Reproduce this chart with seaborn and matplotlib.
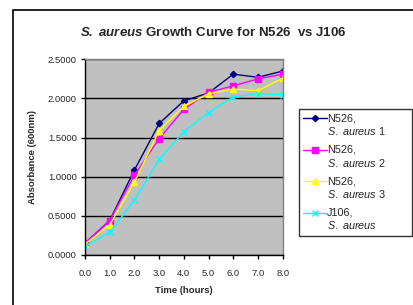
import numpy as np
import pandas as pd
import matplotlib
matplotlib.use('Agg')
import matplotlib.pyplot as plt
import seaborn as sns
from matplotlib.patches import Rectangle
from matplotlib.legend_handler import HandlerLine2D

# values
hours = [0.0, 1.0, 2.0, 3.0, 4.0, 5.0, 6.0, 7.0, 8.0]
n526_1 = [0.15, 0.44, 1.085, 1.68, 1.97, 2.07, 2.31, 2.27, 2.35]
n526_2 = [0.15, 0.44, 1.02, 1.485, 1.86, 2.08, 2.16, 2.25, 2.31]
n526_3 = [0.14, 0.383, 0.93, 1.59, 1.90, 2.06, 2.12, 2.10, 2.26]
j106 = [0.11, 0.29, 0.70, 1.22, 1.575, 1.82, 2.02, 2.06, 2.05]
series_names = ['N526,\n$\\mathit{S.\\ aureus}$ 1', 'N526,\n$\\mathit{S.\\ aureus}$ 2',
                'N526,\n$\\mathit{S.\\ aureus}$ 3', 'J106,\n$\\mathit{S.\\ aureus}$']
y_ticks = [0.0, 0.5, 1.0, 1.5, 2.0, 2.5]

rows = []
for name, vals in zip(series_names, [n526_1, n526_2, n526_3, j106]):
    for h, v in zip(hours, vals):
        rows.append({'Time': h, 'Absorbance': v, 'Series': name})
data = pd.DataFrame(rows)


# legend handle drawn level with the first line of a two-line label
class TopLineHandler(HandlerLine2D):
    def create_artists(self, legend, orig_handle, xdescent, ydescent,
                       width, height, fontsize, trans):
        artists = super().create_artists(legend, orig_handle, xdescent, ydescent,
                                         width, height, fontsize, trans)
        for a in artists:
            a.set_ydata(np.asarray(a.get_ydata()) + 0.65 * fontsize)
        return artists


sns.set_style('white')
plt.rcParams['font.family'] = ['Liberation Sans', 'DejaVu Sans']
plt.rcParams['mathtext.fontset'] = 'custom'
plt.rcParams['mathtext.rm'] = 'Liberation Sans'
plt.rcParams['mathtext.it'] = 'Liberation Sans:italic'
plt.rcParams['mathtext.bf'] = 'Liberation Sans:italic:bold'

fig = plt.figure(figsize=(4.14, 3.05), dpi=100)
fig.patches.append(Rectangle((13 / 414, -0.2), 1.2, 1.2 - 10 / 305,
                             transform=fig.transFigure, fill=False,
                             edgecolor='black', linewidth=1.2))

ax = fig.add_axes([85 / 414, 50 / 305, 197.7 / 414, 195.7 / 305])
ax.set_facecolor('#C0C0C0')

palette = {series_names[0]: '#000080', series_names[1]: '#FF00FF',
           series_names[2]: '#FFFF00', series_names[3]: '#00FFFF'}
markers = {series_names[0]: 'D', series_names[1]: 's',
           series_names[2]: '^', series_names[3]: 'x'}
sizes = {series_names[0]: 3.2, series_names[1]: 4.5, series_names[2]: 5, series_names[3]: 4.5}

for name in series_names:
    sub = data[data['Series'] == name]
    sns.lineplot(data=sub, x='Time', y='Absorbance', ax=ax, color=palette[name],
                 marker=markers[name], markersize=sizes[name],
                 markeredgecolor=palette[name], markeredgewidth=1,
                 linewidth=1, label=name)

ax.set_xlim(0, 8)
ax.set_ylim(0, 2.5)
ax.set_xticks(hours)
ax.set_xticklabels([f'{h:.1f}' for h in hours], fontsize=6.8)
ax.set_yticks(y_ticks)
ax.set_yticklabels([f'{v:.4f}' for v in y_ticks], fontsize=6.8)
ax.grid(axis='y', color='black', linewidth=1)
ax.grid(axis='x', visible=False)
ax.tick_params(axis='both', which='major', direction='out', length=3,
               width=1, color='black', pad=3, left=True, bottom=True)
ax.tick_params(axis='x', pad=7)
for side in ['top', 'right']:
    ax.spines[side].set_color('#808080')
    ax.spines[side].set_linewidth(1)
for side in ['left', 'bottom']:
    ax.spines[side].set_color('black')
    ax.spines[side].set_linewidth(1)

ax.set_xlabel('Time (hours)', fontsize=6.8, fontweight='bold', labelpad=6)
ax.set_ylabel('Absorbance (600nm)', fontsize=6.8, fontweight='bold', labelpad=8)
fig.text(213.5 / 414, 1 - 32 / 305, '$\\mathbf{S.\\ aureus}$ Growth Curve for N526  vs J106',
         fontsize=9.5, fontweight='bold', ha='center', va='center')

handles, labels = ax.get_legend_handles_labels()
ax.legend_.remove()
leg = fig.legend(handles, labels, loc='upper left',
                 bbox_to_anchor=(299 / 414, 1 - 235 / 305, 113 / 414, 126 / 305),
                 mode='expand', fontsize=7.8,
                 frameon=True, fancybox=False, edgecolor='black',
                 handlelength=2.2, handletextpad=0.0, labelspacing=0.68,
                 borderpad=0.4, borderaxespad=0,
                 handler_map={h: TopLineHandler() for h in handles})
leg.get_frame().set_linewidth(1)

fig.savefig('out.png', dpi=100)
